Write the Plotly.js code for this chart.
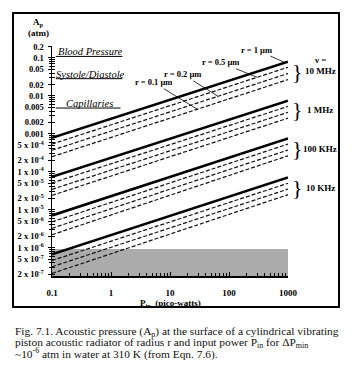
<!DOCTYPE html>
<html><head><meta charset="utf-8">
<script src="https://cdn.plot.ly/plotly-3.0.1.min.js"></script>
<style>html,body{margin:0;padding:0;background:#fff}#c{width:354px;height:379px}</style>
</head><body><div id="c"></div>
<script>
// ---- data ----
const pinPW = [0.1, 1000];                 // input power, pico-watts (line end points)
const radiiLabels = ['r = 1 \u00b5m', 'r = 0.5 \u00b5m', 'r = 0.2 \u00b5m', 'r = 0.1 \u00b5m'];
const freqLabels = ['10 MHz', '1 MHz', '100 KHz', '10 KHz'];
// Ap (atm) at Pin = 0.1 pW, radii r = 1, 0.5, 0.2, 0.1 um
const ap10MHzStart  = [7.85e-4, 5.4e-4, 3.7e-4, 2.5e-4];
const ap1MHzStart   = [7.4e-5, 5.1e-5, 3.45e-5, 2.4e-5];
const ap100kHzStart = [7.1e-6, 4.8e-6, 3.25e-6, 2.2e-6];
const ap10kHzStart  = [6.7e-7, 4.6e-7, 3.15e-7, 2.1e-7];
// Ap (atm) at Pin = 1000 pW
const ap10MHzEnd  = [0.080, 0.057, 0.039, 0.027];
const ap1MHzEnd   = [7.5e-3, 5.3e-3, 3.7e-3, 2.6e-3];
const ap100kHzEnd = [7.6e-4, 5.4e-4, 3.75e-4, 2.65e-4];
const ap10kHzEnd  = [7.1e-5, 5.0e-5, 3.5e-5, 2.5e-5];
// reference levels
const refLabels = ['Blood Pressure', 'Systole/Diastole', 'Capillaries'];
const refLevels = [0.11, 0.0285, 0.0048];
const refXStart = [0.116, 0.116, 0.116];
const refXEnd   = [1.56, 1.56, 1.45];
const noiseFloor = 1e-6;   // shaded region top
// tick labels
const yTickVals = [0.2,0.1,0.05,0.02,0.01,0.005,0.002,0.001,5e-4,2e-4,1e-4,5e-5,2e-5,1e-5,5e-6,2e-6,1e-6,5e-7,2e-7];
const yTickText = ['0.2','0.1','0.05','0.02','0.01','0.005','0.002','0.001',
  '5 x 10<sup>-4</sup>','2 x 10<sup>-4</sup>','1 x 10<sup>-4</sup>',
  '5 x 10<sup>-5</sup>','2 x 10<sup>-5</sup>','1 x 10<sup>-5</sup>',
  '5 x 10<sup>-6</sup>','2 x 10<sup>-6</sup>','1 x 10<sup>-6</sup>',
  '5 x 10<sup>-7</sup>','2 x 10<sup>-7</sup>'];
const xTickVals = [0.1, 1, 10, 100, 1000];
const xTickText = ['0.1', '1', '10', '100', '1000'];

// ---- build ----
const starts = [ap10MHzStart, ap1MHzStart, ap100kHzStart, ap10kHzStart];
const ends = [ap10MHzEnd, ap1MHzEnd, ap100kHzEnd, ap10kHzEnd];
const traces = [];
starts.forEach((s, g) => {
  s.forEach((v, i) => {
    traces.push({
      x: pinPW, y: [v, ends[g][i]], type: 'scatter', mode: 'lines',
      name: freqLabels[g] + ' ' + radiiLabels[i], showlegend: false, hoverinfo: 'skip',
      line: i === 0 ? {color: '#000', width: 2.6} : {color: '#111', width: 1.2, dash: '4px,2px'}
    });
  });
});

const L = 52, R = 288, T = 46, B = 276;
const PX = px => (px - L) / (R - L);
const PY = py => (B - py) / (B - T);
const serif = 'Liberation Serif, Times New Roman, serif';

// minor ticks
const minorY = [], minorX = [];
for (let e = -7; e <= 0; e++) for (let m = 1; m <= 9; m++) { const v = m * Math.pow(10, e); if (v >= 1.8e-7 && v <= 0.21) minorY.push(v); }
for (let e = -1; e <= 2; e++) for (let m = 2; m <= 9; m++) minorX.push(m * Math.pow(10, e));

const shapes = [
  {type: 'rect', xref: 'x', yref: 'paper', x0: 0.1, x1: 1000, y0: 0, y1: PY(249), fillcolor: '#ababab', line: {width: 0}, layer: 'below'},
  {type: 'rect', xref: 'paper', yref: 'paper', x0: PX(13), x1: PX(339), y0: PY(307), y1: PY(13), line: {color: '#000', width: 2}, fillcolor: 'rgba(0,0,0,0)'}
];
refLevels.forEach((lv, i) => shapes.push({type: 'line', xref: 'x', yref: 'y', x0: refXStart[i], x1: refXEnd[i], y0: lv, y1: lv, line: {color: '#000', width: 1}}));

const annotations = [];
function txt(px, py, text, size, extra) {
  annotations.push(Object.assign({xref: 'paper', yref: 'paper', x: PX(px), y: PY(py), xanchor: 'center', yanchor: 'middle',
    text: text, showarrow: false, font: {family: serif, size: size, color: '#000'}}, extra || {}));
}
// y title
txt(38, 23, '<b>A<sub>p</sub></b>', 9);
txt(38, 33, '<b>(atm)</b>', 9);
// x title
txt(170, 303, '<b>P<sub>in</sub>  (pico-watts)</b>', 9);
// reference labels
const refTextY = [52, 74, 103];
const refTextX = [90, 90, 89];
refLabels.forEach((t, i) => txt(refTextX[i], refTextY[i], '<i>' + t + '</i>', 10.5));
// brackets and frequency labels
const groupMidY = [71.5, 110, 148.5, 187.5];
groupMidY.forEach((py, g) => {
  txt(297, py, '}', 22);
  txt(320, g === 0 ? py - 1 : py, '<b>' + freqLabels[g] + '</b>', 9);
});
txt(320, 60, '<b>\u03bd =</b>', 9);
// radius labels with leader lines (point on the 10 MHz lines)
const leaderX = [890, 300, 65, 29];
const leaderOff = [[-29, -13], [-37, -15], [-35, -22], [-44, -27]];
radiiLabels.forEach((t, i) => {
  const s = ap10MHzStart[i], e = ap10MHzEnd[i];
  const f = (Math.log10(leaderX[i]) - Math.log10(pinPW[0])) / (Math.log10(pinPW[1]) - Math.log10(pinPW[0]));
  const yv = Math.pow(10, Math.log10(s) + f * (Math.log10(e) - Math.log10(s)));
  annotations.push({x: Math.log10(leaderX[i]), y: Math.log10(yv), xref: 'x', yref: 'y', text: '<b>' + t + '</b>', showarrow: true, arrowhead: 0, arrowwidth: 0.8, arrowcolor: '#000', ax: leaderOff[i][0], ay: leaderOff[i][1], standoff: 0, font: {family: serif, size: 8.5, color: '#000'}});
});
// caption
const capLines = [
  'Fig. 7.1. Acoustic pressure (A<sub>p</sub>) at the surface of a cylindrical vibrating',
  'piston acoustic radiator of radius r and input power P<sub>in</sub> for \u0394P<sub>min</sub>',
  '~10<sup>-6</sup> atm in water at 310 K (from Eqn. 7.6).'
];
const capY = [331.5, 342.5, 353.5];
capLines.forEach((t, i) => txt(13, capY[i], t, 11.4, {xanchor: 'left', font: {family: serif, size: 11.4, color: '#111'}}));

const yRange = [Math.log10(1.8e-7), Math.log10(0.207)];
const layout = {
  width: 354, height: 379,
  margin: {l: L, r: 354 - R, t: T, b: 379 - B, pad: 0},
  paper_bgcolor: '#fff', plot_bgcolor: '#fff',
  showlegend: false,
  xaxis: {type: 'log', range: [-1, 3], showgrid: false, zeroline: false, showline: true, linecolor: '#000', linewidth: 1.5,
    tickmode: 'array', tickvals: xTickVals, ticktext: xTickText, ticks: 'inside', ticklen: 4, tickcolor: '#000', tickwidth: 1,
    ticklabelstandoff: 8, tickfont: {family: serif, size: 9, color: '#000', weight: 'bold'},
    minor: {tickmode: 'array', tickvals: minorX, ticks: 'inside', ticklen: 3, tickcolor: '#000', showgrid: false}},
  yaxis: {type: 'log', range: yRange, showgrid: false, zeroline: false, showline: true, linecolor: '#000', linewidth: 1.5,
    tickmode: 'array', tickvals: yTickVals, ticktext: yTickText, ticks: 'outside', ticklen: 3, tickcolor: '#000', tickwidth: 1,
    ticklabelstandoff: 2, tickfont: {family: serif, size: 8.5, color: '#000', weight: 'bold'},
    minor: {tickmode: 'array', tickvals: minorY, ticks: 'outside', ticklen: 2, tickcolor: '#000', showgrid: false}},
  yaxis2: {type: 'log', range: yRange, overlaying: 'y', anchor: 'x', side: 'left', showgrid: false, zeroline: false, showline: false,
    tickmode: 'array', tickvals: minorY, ticks: 'inside', ticklen: 2.5, tickcolor: '#000', showticklabels: false},
  shapes: shapes,
  annotations: annotations
};
traces.push({x: [0.1], y: [1e-3], yaxis: 'y2', mode: 'markers', marker: {opacity: 0}, showlegend: false, hoverinfo: 'skip'});
Plotly.newPlot('c', traces, layout, {staticPlot: true, displayModeBar: false});
</script></body></html>
